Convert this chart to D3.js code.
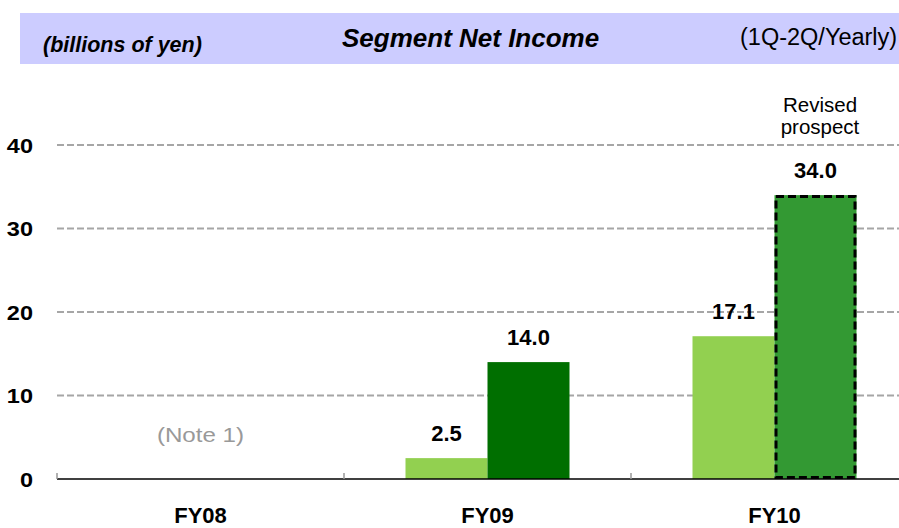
<!DOCTYPE html>
<html>
<head>
<meta charset="utf-8">
<script src="https://cdn.jsdelivr.net/npm/d3@7"></script>
<style>
  html, body { margin: 0; padding: 0; background: #fff; }
  svg { display: block; font-family: Arial, "Liberation Sans", sans-serif; }
</style>
</head>
<body>
<svg id="chart" width="899" height="528"></svg>
<script>
// ---- data ----
const categories = ["FY08", "FY09", "FY10"];
const seriesNames = ["1Q-2Q", "Yearly"];
const firstHalf = [null, 2.5, 17.1];
const yearly = [null, 14.0, 34.0];
const yTicks = [0, 10, 20, 30, 40];
const headerLeft = "(billions of yen)";
const headerTitle = "Segment Net Income";
const headerRight = "(1Q-2Q/Yearly)";
const noteText = "(Note 1)";
const prospectLines = ["Revised", "prospect"];

const svg = d3.select("#chart");

// header band
svg.append("rect").attr("x", 20).attr("y", 13).attr("width", 879).attr("height", 51).attr("fill", "#CCCCFF");
svg.append("text").attr("x", 43).attr("y", 52).attr("font-size", 21.5).attr("font-weight", "bold")
  .attr("font-style", "italic").attr("fill", "#000").text(headerLeft);
svg.append("text").attr("x", 342).attr("y", 47).attr("font-size", 26).attr("font-weight", "bold")
  .attr("font-style", "italic").attr("fill", "#000").text(headerTitle);
svg.append("text").attr("x", 740).attr("y", 45).attr("font-size", 23.5)
  .attr("fill", "#000").text(headerRight);

// scales
const x = d3.scaleBand().domain(categories).range([57, 57 + 287 * 3]).paddingInner(0).paddingOuter(0);
const xSub = d3.scaleBand().domain(seriesNames).range([0, x.bandwidth()]).paddingInner(0).paddingOuter(0.75);
const y = d3.scaleLinear().domain([0, 40]).range([479, 145]);

// gridlines
svg.append("g").selectAll("line").data(yTicks.filter(d => d > 0)).join("line")
  .attr("x1", 57).attr("x2", 899)
  .attr("y1", d => y(d)).attr("y2", d => y(d))
  .attr("stroke", "#A6A6A6").attr("stroke-width", 2).attr("stroke-dasharray", "7,3");

// y tick labels
svg.append("g").selectAll("text").data(yTicks).join("text")
  .attr("text-anchor", "end").attr("font-size", 21).attr("font-weight", "bold").attr("fill", "#000")
  .attr("transform", d => `translate(33,${y(d)}) scale(1.12,1)`)
  .attr("dy", "0.36em")
  .text(d => d);

const rows = categories.map((c, i) => ({ cat: c, vals: [firstHalf[i], yearly[i]] }));
const colors = { "FY09": ["#92D050", "#006F00"], "FY10": ["#92D050", "#339933"] };

// bars
const barData = [];
rows.forEach(r => r.vals.forEach((v, j) => { if (v != null) barData.push({ cat: r.cat, s: seriesNames[j], j, v }); }));

svg.append("g").selectAll("rect").data(barData).join("rect")
  .attr("x", d => x(d.cat) + xSub(d.s))
  .attr("y", d => y(d.v))
  .attr("width", xSub.bandwidth())
  .attr("height", d => y(0) - y(d.v))
  .attr("fill", d => colors[d.cat][d.j]);

// dashed outline for revised prospect
const rev = barData.find(d => d.cat === "FY10" && d.s === "Yearly");
svg.append("rect")
  .attr("x", x(rev.cat) + xSub(rev.s) + 1.5)
  .attr("y", y(rev.v) + 1.5)
  .attr("width", xSub.bandwidth() - 3)
  .attr("height", y(0) - y(rev.v) - 3)
  .attr("fill", "none").attr("stroke", "#000").attr("stroke-width", 3).attr("stroke-dasharray", "8,4");

// value labels
svg.append("g").selectAll("text").data(barData).join("text")
  .attr("x", d => x(d.cat) + xSub(d.s) + xSub.bandwidth() / 2)
  .attr("y", d => y(d.v) - 17)
  .attr("text-anchor", "middle").attr("font-size", 22).attr("font-weight", "bold").attr("fill", "#000")
  .text(d => d.v.toFixed(1));

// axis baseline and ticks
svg.append("line").attr("x1", 57).attr("x2", 899).attr("y1", y(0)).attr("y2", y(0))
  .attr("stroke", "#000").attr("stroke-width", 1.5);
svg.append("g").selectAll("line").data(categories).join("line")
  .attr("x1", d => x(d)).attr("x2", d => x(d))
  .attr("y1", y(0)).attr("y2", y(0) - 6)
  .attr("stroke", "#999").attr("stroke-width", 1.5);

// category labels
svg.append("g").selectAll("text").data(categories).join("text")
  .attr("x", d => x(d) + x.bandwidth() / 2).attr("y", 523)
  .attr("text-anchor", "middle").attr("font-size", 22).attr("font-weight", "bold").attr("fill", "#000")
  .text(d => d);

// note
svg.append("text")
  .attr("transform", `translate(${x("FY08") + x.bandwidth() / 2},442) scale(1.15,1)`)
  .attr("text-anchor", "middle").attr("font-size", 21).attr("fill", "#999").text(noteText);

// revised prospect
svg.append("g").selectAll("text").data(prospectLines).join("text")
  .attr("x", 820).attr("y", (d, i) => 112 + i * 22)
  .attr("text-anchor", "middle").attr("font-size", 20.5).attr("fill", "#000").text(d => d);
</script>
</body>
</html>
